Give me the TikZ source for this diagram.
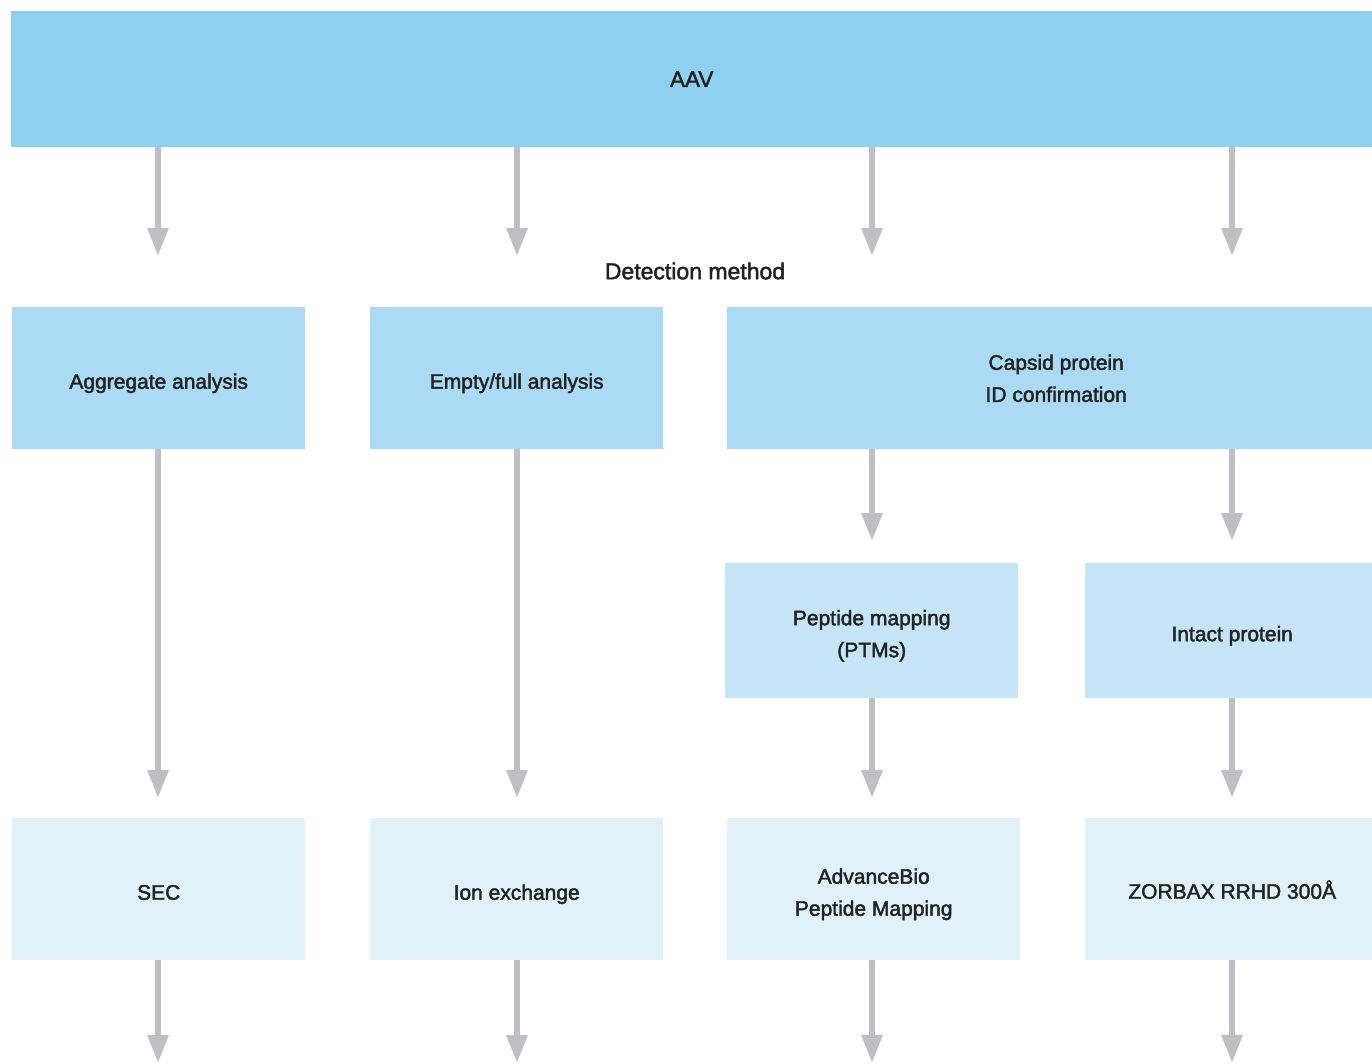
\documentclass[tikz,border=0pt]{standalone}
\usepackage{fontspec}
\setmainfont{Liberation Sans}[FakeBold=2]
\usetikzlibrary{arrows.meta, positioning}
\usepackage{xcolor}
\definecolor{aavtop}{RGB}{143,208,241}
\definecolor{aavmid}{RGB}{171,219,244}
\definecolor{aavlow}{RGB}{197,229,246}
\definecolor{aavcol}{RGB}{224,241,250}
\definecolor{flowgray}{RGB}{190,190,196}
\definecolor{inkdark}{RGB}{34,34,34}
\tikzset{
  box/.style={inner sep=0pt, align=center, text=inkdark, text depth=0pt,
    font=\fontsize{21}{32}\selectfont, anchor=north west},
  oneline/.style={box, text height=21pt},
  twoline/.style={box, text height=53pt},
  flow/.style={draw=flowgray, line width=6pt,
    -{Triangle[width=20pt, length=28pt]}}
}

\begin{document}
\begin{tikzpicture}[x=1pt, y=-1pt]
\useasboundingbox (0,0) rectangle (1372,1063);
\fill[white] (0,0) rectangle (1372,1063);
% top
\node[box, fill=aavtop, minimum width=1361pt, minimum height=136pt,
  font=\fontsize{22.5}{32}\selectfont] (aav) at (11,11) {AAV};
\node[text=inkdark, font=\fontsize{23}{32}\selectfont] (detect) at (695,271) {Detection method};
% analysis row (right boxes run past the page edge)
\node[oneline, fill=aavmid, minimum width=293pt, minimum height=142pt] (agg) at (12,307) {Aggregate analysis};
\node[oneline, fill=aavmid, minimum width=293pt, minimum height=142pt] (empty) at (370,307) {Empty/full analysis};
\node[box, fill=aavmid, minimum width=658pt, minimum height=142pt] (capsid) at (727,307) {Capsid protein\\ID confirmation};
% capsid sub row
\node[twoline, fill=aavlow, minimum width=293pt, minimum height=135pt] (pepmap) at (725,563) {Peptide mapping\\(PTMs)};
\node[oneline, fill=aavlow, minimum width=294pt, minimum height=135pt] (intact) at (1085,563) {Intact protein};
% columns
\node[oneline, fill=aavcol, minimum width=293pt, minimum height=142pt] (sec) at (12,818) {SEC};
\node[oneline, fill=aavcol, minimum width=293pt, minimum height=142pt] (ionex) at (370,818) {Ion exchange};
\node[twoline, fill=aavcol, minimum width=293pt, minimum height=142pt] (advbio) at (727,818) {AdvanceBio\\Peptide Mapping};
\node[box, text height=19pt, fill=aavcol, minimum width=294pt, minimum height=142pt] (zorbax) at (1085,818) {ZORBAX RRHD 300Å};

% column lines and arrow ends
\foreach \cx [count=\i] in {158,517,872,1232} {
  \coordinate (col\i) at (\cx,1063);
  \coordinate (hit\i) at (\cx,256);
  \draw[flow] (aav.south -| col\i) -- (hit\i);
}
\draw[flow] (agg.south -| col1) -- ([yshift=20pt]sec.north -| col1);
\draw[flow] (empty.south -| col2) -- ([yshift=20pt]ionex.north -| col2);
\draw[flow] (capsid.south -| col3) -- ([yshift=22pt]pepmap.north -| col3);
\draw[flow] (capsid.south -| col4) -- ([yshift=22pt]intact.north -| col4);
\draw[flow] (pepmap.south -| col3) -- ([yshift=20pt]advbio.north -| col3);
\draw[flow] (intact.south -| col4) -- ([yshift=20pt]zorbax.north -| col4);
\foreach \nd [count=\i] in {sec,ionex,advbio,zorbax}
  \draw[flow] (\nd.south -| col\i) -- (col\i);
\end{tikzpicture}
\end{document}
